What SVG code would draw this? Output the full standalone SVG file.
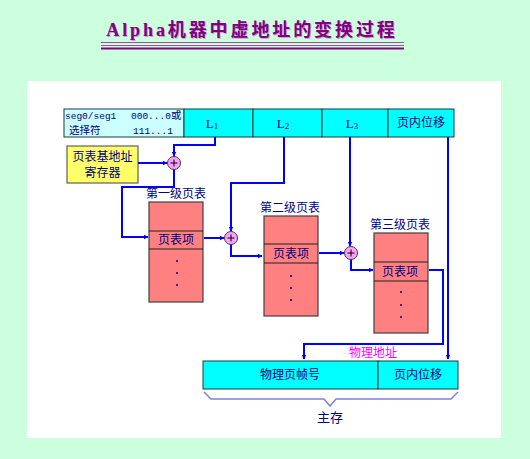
<svg xmlns="http://www.w3.org/2000/svg" width="530" height="459" viewBox="0 0 530 459">
<defs>
<marker id="ah" viewBox="0 0 10 10" refX="9" refY="5" markerWidth="5" markerHeight="5" orient="auto" markerUnits="userSpaceOnUse">
<path d="M0,0 L10,5 L0,10 z" fill="#0000FF"/>
</marker>
<style>
.t{font-family:"Liberation Serif","Noto Sans CJK SC",serif;fill:#000080}
.c{font-family:"Noto Sans CJK SC",sans-serif;fill:#000080}
.m{font-family:"Liberation Mono","Noto Sans CJK SC",monospace;fill:#000080}
.cell{fill:#00FFFF;stroke:#1a3a3a;stroke-width:1}
.tbl{fill:#FF8080;stroke:#404040;stroke-width:1.2}
.div{stroke:#202020;stroke-width:1.2}
.ln{fill:none;stroke:#0000FF;stroke-width:2}
.plus{fill:#FFA0FF;stroke:#404040;stroke-width:1}
.dot{fill:#000080}
</style>
</defs>
<rect x="0" y="0" width="530" height="459" fill="#CCFFDD"/>
<rect x="27" y="81" width="474" height="357" fill="#FFFFFF"/>

<g id="title">
<text x="252" y="36" text-anchor="middle" font-family="Liberation Serif,Noto Sans CJK SC,serif" font-size="18" font-weight="bold" fill="#D0A0D0" letter-spacing="2.9" transform="translate(1,1)">Alpha机器中虚地址的变换过程</text>
<text x="252" y="36" text-anchor="middle" font-family="Liberation Serif,Noto Sans CJK SC,serif" font-size="18" font-weight="bold" fill="#800080" letter-spacing="2.9">Alpha机器中虚地址的变换过程</text>
<line x1="101" y1="42.5" x2="404" y2="42.5" stroke="#A050A0" stroke-width="1"/>
<line x1="101" y1="45.5" x2="404" y2="45.5" stroke="#A050A0" stroke-width="1"/>
<line x1="101" y1="48.5" x2="404" y2="48.5" stroke="#800080" stroke-width="2"/>
</g>

<g id="vaddr">
<rect x="64" y="109" width="120" height="28" fill="#CCFFFF" stroke="#1a3a3a"/>
<rect class="cell" x="184" y="109" width="69" height="28"/>
<rect class="cell" x="253" y="109" width="69" height="28"/>
<rect class="cell" x="322" y="109" width="66" height="28"/>
<rect class="cell" x="388" y="109" width="66" height="28"/>
<text class="m" x="65" y="119" font-size="9.5">seg0/seg1</text>
<text class="m" x="131" y="119" font-size="9.5">000...0<tspan class="c" font-size="10.5">或</tspan></text>
<text class="c" x="69" y="134" font-size="10.5">选择符</text>
<text class="m" x="133" y="134" font-size="9.5">111...1</text>
<text class="t" x="212" y="128" text-anchor="middle" font-size="13">L<tspan font-size="9" dy="1">1</tspan></text>
<text class="t" x="283" y="128" text-anchor="middle" font-size="13">L<tspan font-size="9" dy="1">2</tspan></text>
<text class="t" x="352" y="128" text-anchor="middle" font-size="13">L<tspan font-size="9" dy="1">3</tspan></text>
<text class="c" x="421" y="127" text-anchor="middle" font-size="12">页内位移</text>
</g>

<g id="basereg">
<rect x="67" y="146" width="71" height="37" fill="#FFFF66" stroke="#606060" stroke-width="1.2"/>
<text class="c" x="102.5" y="161" text-anchor="middle" font-size="12" fill="#000040">页表基地址</text>
<text class="c" x="102.5" y="177" text-anchor="middle" font-size="12" fill="#000040">寄存器</text>
</g>

<g id="connectors">
<polyline class="ln" points="215,137 215,145 174,145 174,156" marker-end="url(#ah)"/>
<line class="ln" x1="138" y1="163" x2="167" y2="163" marker-end="url(#ah)"/>
<polyline class="ln" points="174,169 174,187 122,187 122,237 148,237" marker-end="url(#ah)"/>
<line class="ln" x1="204" y1="238" x2="224" y2="238" marker-end="url(#ah)"/>
<polyline class="ln" points="284,137 284,183 231,183 231,231" marker-end="url(#ah)"/>
<polyline class="ln" points="231,244 231,256 262,256" marker-end="url(#ah)"/>
<line class="ln" x1="319" y1="253" x2="344" y2="253" marker-end="url(#ah)"/>
<polyline class="ln" points="350,137 350,246" marker-end="url(#ah)"/>
<polyline class="ln" points="351,259 351,270 373,270" marker-end="url(#ah)"/>
<polyline class="ln" points="429,270 443,270 443,344 304,344 304,359" marker-end="url(#ah)"/>
<polyline class="ln" points="448,137 448,359" marker-end="url(#ah)"/>
</g>

<g id="add1">
<circle class="plus" cx="174" cy="163" r="6.5"/>
<path d="M170.5,163 h7 M174,159.5 v7" stroke="#000" stroke-width="1"/>
</g>
<g id="add2">
<circle class="plus" cx="231" cy="238" r="6.5"/>
<path d="M227.5,238 h7 M231,234.5 v7" stroke="#000" stroke-width="1"/>
</g>
<g id="add3">
<circle class="plus" cx="351" cy="253" r="6.5"/>
<path d="M347.5,253 h7 M351,249.5 v7" stroke="#000" stroke-width="1"/>
</g>

<g id="table1">
<text class="c" x="176" y="198" text-anchor="middle" font-size="12">第一级页表</text>
<rect class="tbl" x="149" y="202" width="54" height="100"/>
<line class="div" x1="149" y1="231" x2="203" y2="231"/>
<line class="div" x1="149" y1="249" x2="203" y2="249"/>
<text class="c" x="176" y="244" text-anchor="middle" font-size="12">页表项</text>
<circle class="dot" cx="177" cy="261" r="1"/>
<circle class="dot" cx="177" cy="273" r="1"/>
<circle class="dot" cx="177" cy="285" r="1"/>
</g>

<g id="table2">
<text class="c" x="290" y="212" text-anchor="middle" font-size="12">第二级页表</text>
<rect class="tbl" x="264" y="216" width="54" height="100"/>
<line class="div" x1="264" y1="244" x2="318" y2="244"/>
<line class="div" x1="264" y1="263" x2="318" y2="263"/>
<text class="c" x="291" y="258" text-anchor="middle" font-size="12">页表项</text>
<circle class="dot" cx="291" cy="276" r="1"/>
<circle class="dot" cx="291" cy="288" r="1"/>
<circle class="dot" cx="291" cy="300" r="1"/>
</g>

<g id="table3">
<text class="c" x="400" y="229" text-anchor="middle" font-size="12">第三级页表</text>
<rect class="tbl" x="374" y="233" width="54" height="100"/>
<line class="div" x1="374" y1="262" x2="428" y2="262"/>
<line class="div" x1="374" y1="281" x2="428" y2="281"/>
<text class="c" x="400" y="276" text-anchor="middle" font-size="12">页表项</text>
<circle class="dot" cx="401" cy="292" r="1"/>
<circle class="dot" cx="401" cy="305" r="1"/>
<circle class="dot" cx="401" cy="317" r="1"/>
</g>

<g id="memory">
<text class="c" x="373" y="357" text-anchor="middle" font-size="12" style="fill:#FF00FF">物理地址</text>
<rect class="cell" x="203" y="361" width="175" height="28" stroke-width="1.2"/>
<rect class="cell" x="378" y="361" width="80" height="28" stroke-width="1.2"/>
<text class="c" x="290" y="379" text-anchor="middle" font-size="12">物理页帧号</text>
<text class="c" x="418" y="379" text-anchor="middle" font-size="12">页内位移</text>
<polyline points="204,392 211,399 324,399 330,406 336,399 451,399 458,392" fill="none" stroke="#8080E0" stroke-width="1.5"/>
<text class="c" x="330" y="422" text-anchor="middle" font-size="13">主存</text>
</g>
</svg>
